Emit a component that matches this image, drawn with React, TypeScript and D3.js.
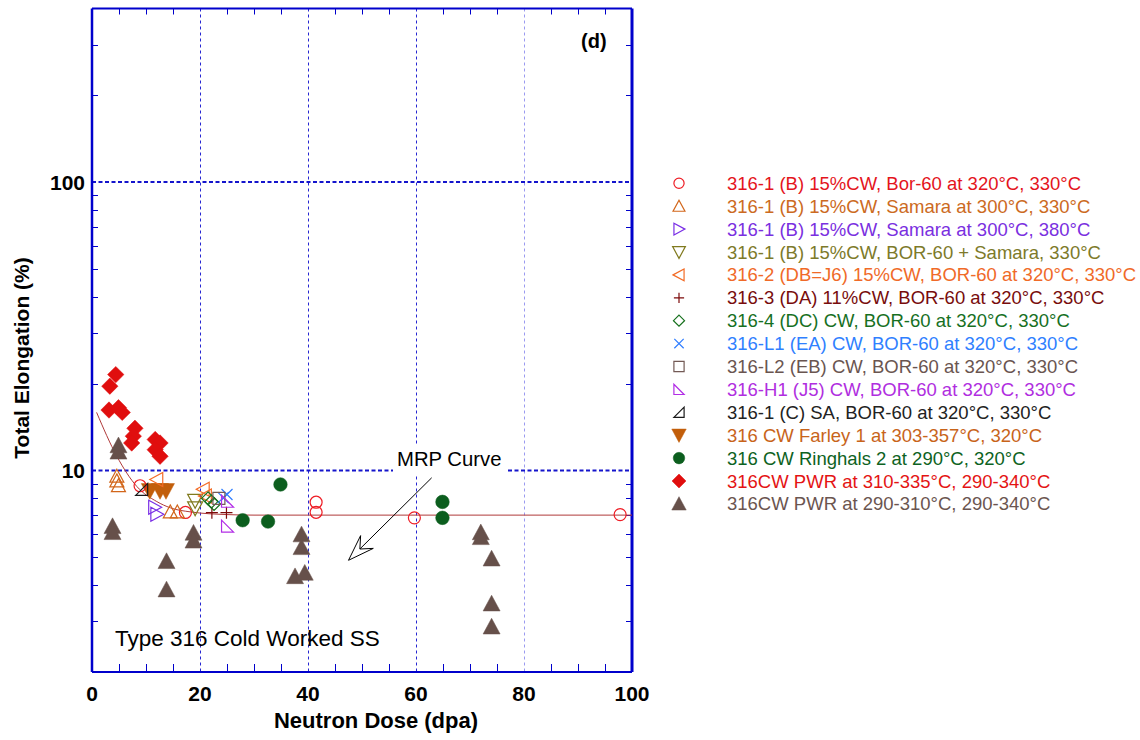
import React from 'react';
import * as d3 from 'd3';

const FONT = '"Liberation Sans", Arial, Helvetica, sans-serif';

// ---------- data ----------
const xTicks = [0, 20, 40, 60, 80, 100];
const xGrid = [20, 40, 60, 80];
const xMinor = [5, 10, 15, 25, 30, 35, 45, 50, 55, 65, 70, 75, 85, 90, 95];
const yTicks = [10, 100];
const yMinor = [3, 4, 5, 6, 7, 8, 9, 20, 30, 40, 50, 60, 70, 80, 90, 200, 300];

const labels = [
  '316-1 (B) 15%CW, Bor-60 at 320°C, 330°C',
  '316-1 (B) 15%CW, Samara at 300°C, 330°C',
  '316-1 (B) 15%CW, Samara at 300°C, 380°C',
  '316-1 (B) 15%CW, BOR-60 + Samara, 330°C',
  '316-2 (DB=J6) 15%CW, BOR-60 at 320°C, 330°C',
  '316-3 (DA) 11%CW, BOR-60 at 320°C, 330°C',
  '316-4 (DC) CW, BOR-60 at 320°C, 330°C',
  '316-L1 (EA) CW, BOR-60 at 320°C, 330°C',
  '316-L2 (EB) CW, BOR-60 at 320°C, 330°C',
  '316-H1 (J5) CW, BOR-60 at 320°C, 330°C',
  '316-1 (C) SA, BOR-60 at 320°C, 330°C',
  '316 CW Farley 1 at 303-357°C, 320°C',
  '316 CW Ringhals 2 at 290°C, 320°C',
  '316CW PWR at 310-335°C, 290-340°C',
  '316CW PWR at 290-310°C, 290-340°C',
];

const s1Dose = [8.9, 17.3, 41.5, 41.5, 59.7, 97.8];
const s1Elong = [8.85, 7.15, 7.76, 7.16, 6.85, 7.03];
const s2Dose = [4.6, 4.6, 4.9, 14.5, 15.8];
const s2Elong = [9.55, 9.2, 8.85, 7.18, 7.18];
const s3Dose = [11.6, 12.0];
const s3Elong = [7.45, 7.05];
const s4Dose = [19.1, 19.1];
const s4Elong = [7.85, 7.4];
const s5Dose = [12.0, 20.6, 21.0];
const s5Elong = [9.3, 8.6, 8.15];
const s6Dose = [22.2, 24.9];
const s6Elong = [7.14, 7.14];
const s7Dose = [21.5, 22.1, 22.6];
const s7Elong = [8.0, 7.8, 7.65];
const s8Dose = [24.3, 25.0];
const s8Elong = [8.05, 8.25];
const s9Dose = [23.5];
const s9Elong = [8.0];
const s10Dose = [25.1, 25.1];
const s10Elong = [7.82, 6.41];
const s11Dose = [9.2];
const s11Elong = [8.6];
const s12Dose = [10.7, 12.6, 13.7];
const s12Elong = [8.5, 8.5, 8.5];
const s13Dose = [27.9, 32.6, 34.9, 64.9, 64.9];
const s13Elong = [6.72, 6.65, 8.94, 7.78, 6.85];
const s14Dose = [4.4, 3.3, 3.15, 4.9, 5.6, 7.95, 7.65, 7.35, 11.7, 12.6, 11.7, 12.6];
const s14Elong = [21.5, 19.6, 16.2, 16.5, 15.9, 14.0, 13.15, 12.45, 12.8, 12.45, 11.8, 11.2];
const s15Dose = [4.9, 4.9, 3.8, 3.8, 13.8, 13.8, 18.8, 18.8, 38.8, 38.8, 37.6, 39.4, 72.0, 72.0, 74.0, 74.0, 74.0];
const s15Elong = [12.2, 11.6, 6.4, 6.1, 4.84, 3.86, 6.07, 5.7, 5.99, 5.41, 4.29, 4.41, 6.09, 5.86, 4.94, 3.45, 2.87];

const mrpDose = [0.85, 4.6, 8.3, 12.0, 14.5, 18.3, 25, 30, 100];
const mrpElong = [15.9, 11.2, 8.8, 7.8, 7.42, 7.18, 7.03, 7.0, 7.0];

const arrowFrom = [62.9, 9.43];
const arrowTo = [47.5, 4.88];

// ---------- styles ----------
type Style = { shape: string; color: string; text: string; filled: boolean; size: number };
const styles: Style[] = [
  { shape: 'circle', color: '#ee1c24', text: '#e4141c', filled: false, size: 6 },
  { shape: 'triUp', color: '#d2661a', text: '#cc6a22', filled: false, size: 7 },
  { shape: 'triRight', color: '#7a2fe6', text: '#7a2fe0', filled: false, size: 7 },
  { shape: 'triDown', color: '#807a1e', text: '#7d7a2a', filled: false, size: 7.5 },
  { shape: 'triLeft', color: '#f36b25', text: '#f06a28', filled: false, size: 7 },
  { shape: 'plus', color: '#7c0a0a', text: '#780c0c', filled: false, size: 6 },
  { shape: 'diamond', color: '#15701c', text: '#17701f', filled: false, size: 6.5 },
  { shape: 'cross', color: '#2f7dff', text: '#2f80ff', filled: false, size: 5.5 },
  { shape: 'square', color: '#735a55', text: '#6a5550', filled: false, size: 6 },
  { shape: 'rtriA', color: '#b22ee6', text: '#b02ee0', filled: false, size: 6 },
  { shape: 'rtriB', color: '#1a1a1a', text: '#222222', filled: false, size: 6 },
  { shape: 'triDown', color: '#c25e0a', text: '#c8641a', filled: true, size: 8.5 },
  { shape: 'circle', color: '#0c5e1e', text: '#0d6222', filled: true, size: 6.8 },
  { shape: 'diamond', color: '#e00e0e', text: '#e41414', filled: true, size: 8.2 },
  { shape: 'triUp', color: '#66504a', text: '#6b5550', filled: true, size: 8.5 },
];

const doses = [s1Dose, s2Dose, s3Dose, s4Dose, s5Dose, s6Dose, s7Dose, s8Dose, s9Dose, s10Dose, s11Dose, s12Dose, s13Dose, s14Dose, s15Dose];
const elongs = [s1Elong, s2Elong, s3Elong, s4Elong, s5Elong, s6Elong, s7Elong, s8Elong, s9Elong, s10Elong, s11Elong, s12Elong, s13Elong, s14Elong, s15Elong];

function shapePath(shape: string, s: number): string {
  const k = s * 0.85;
  switch (shape) {
    case 'circle':
      return `M${-s},0a${s},${s} 0 1,0 ${2 * s},0a${s},${s} 0 1,0 ${-2 * s},0Z`;
    case 'triUp':
      return `M0,${-s}L${s},${k}L${-s},${k}Z`;
    case 'triDown':
      return `M0,${s}L${s},${-k}L${-s},${-k}Z`;
    case 'triRight':
      return `M${s},0L${-k},${-s}L${-k},${s}Z`;
    case 'triLeft':
      return `M${-s},0L${k},${-s}L${k},${s}Z`;
    case 'diamond':
      return `M0,${-s}L${s},0L0,${s}L${-s},0Z`;
    case 'square':
      return `M${-s},${-s}H${s}V${s}H${-s}Z`;
    case 'plus':
      return `M${-s},0H${s}M0,${-s}V${s}`;
    case 'cross':
      return `M${-s},${-s}L${s},${s}M${s},${-s}L${-s},${s}`;
    case 'rtriA':
      return `M${-s},${-s}L${-s},${s}L${s},${s}Z`;
    case 'rtriB':
      return `M${-s},${s}L${s},${s}L${s},${-s}Z`;
    default:
      return '';
  }
}

function Marker({ st, x, y, scale = 1 }: { st: Style; x: number; y: number; scale?: number }) {
  const d = shapePath(st.shape, st.size * scale);
  return (
    <path
      d={d}
      transform={`translate(${x},${y})`}
      fill={st.filled ? st.color : 'none'}
      stroke={st.color}
      strokeWidth={st.filled ? 0.5 : 1.2}
    />
  );
}

const crisp = (v: number) => Math.round(v) + 0.5;

export default function App() {
  const W = 1140, H = 740;
  const left = 92, right = 632, top = 8.5, bottom = 672;
  const x = d3.scaleLinear().domain([0, 100]).range([left, right]);
  const y = d3.scaleLog().domain([2, 400]).range([bottom, top]);

  const blue = '#0000cc';
  const mrpLine = d3
    .line<number>()
    .x((_, i) => x(mrpDose[i]))
    .y((d) => y(d))
    .curve(d3.curveMonotoneX)(mrpElong) as string;

  const ax = x(arrowFrom[0]), ay = y(arrowFrom[1]);
  const bx = x(arrowTo[0]), by = y(arrowTo[1]);
  const ang = Math.atan2(by - ay, bx - ax);
  const ux = Math.cos(ang), uy = Math.sin(ang);
  const px = -uy, py = ux;
  const headL = 26, headW = 9, notch = 16;
  const b1 = [bx - ux * headL + px * headW, by - uy * headL + py * headW];
  const b2 = [bx - ux * headL - px * headW, by - uy * headL - py * headW];
  const nt = [bx - ux * notch, by - uy * notch];

  const legendX = 679, legendTextX = 727, legendY0 = 183.3, legendDy = 22.9;

  const order = [13, 14, 12, 11, 0, 1, 2, 3, 4, 5, 6, 7, 8, 9, 10];

  return (
    <svg width={W} height={H} style={{ position: 'absolute', left: 0, top: 0, background: '#fff' }} fontFamily={FONT}>
      <rect x={0} y={0} width={W} height={H} fill="#fff" />
      {xGrid.map((v) => (
        <line key={'gx' + v} x1={crisp(x(v))} x2={crisp(x(v))} y1={top} y2={bottom} stroke={v === 80 ? '#9a9af0' : '#2626d2'} strokeWidth={1} strokeDasharray="3,3" />
      ))}
      {yTicks.map((v) => (
        <line key={'gy' + v} x1={left} x2={right} y1={y(v)} y2={y(v)} stroke="#1414cc" strokeWidth={2} strokeDasharray="4,2.5" />
      ))}
      {yMinor.map((v) => (
        <g key={'ym' + v}>
          <line x1={left} x2={left + 6} y1={crisp(y(v))} y2={crisp(y(v))} stroke={blue} strokeWidth={1} />
          <line x1={right - 6} x2={right} y1={crisp(y(v))} y2={crisp(y(v))} stroke={blue} strokeWidth={1} />
        </g>
      ))}
      {xMinor.map((v) => (
        <g key={'xm' + v}>
          <line x1={crisp(x(v))} x2={crisp(x(v))} y1={bottom} y2={bottom - 8} stroke={blue} strokeWidth={1} />
          <line x1={crisp(x(v))} x2={crisp(x(v))} y1={top} y2={top + 6} stroke={blue} strokeWidth={1} />
        </g>
      ))}
      <line x1={left} x2={right} y1={top} y2={top} stroke={blue} strokeWidth={2} />
      <line x1={left} x2={right} y1={bottom} y2={bottom} stroke={blue} strokeWidth={2} />
      <line x1={left} x2={left} y1={top} y2={bottom} stroke={blue} strokeWidth={2.5} />
      <line x1={right} x2={right} y1={top} y2={bottom} stroke={blue} strokeWidth={3} />

      <rect x={393} y={446} width={113} height={28} fill="#fff" />
      <text x={397} y={466} fontSize={20.3} fill="#000">MRP Curve</text>

      <path d={mrpLine} fill="none" stroke="#b03a3a" strokeWidth={1} />

      <line x1={ax} y1={ay} x2={nt[0]} y2={nt[1]} stroke="#000" strokeWidth={1} />
      <path d={`M${bx},${by}L${b1[0]},${b1[1]}L${nt[0]},${nt[1]}L${b2[0]},${b2[1]}Z`} fill="#fff" stroke="#000" strokeWidth={1} />

      {order.map((si) => (
        <g key={'s' + si}>
          {doses[si].map((dv, i) => (
            <Marker key={i} st={styles[si]} x={x(dv)} y={y(elongs[si][i])} />
          ))}
        </g>
      ))}

      <text x={115} y={646} fontSize={22.5} fill="#000">Type 316 Cold Worked SS</text>
      <text x={581} y={48} fontSize={20} fontWeight="bold" fill="#000">(d)</text>

      {xTicks.map((v) => (
        <text key={'xt' + v} x={x(v)} y={701} fontSize={21} fontWeight="bold" textAnchor="middle" fill="#000">{v}</text>
      ))}
      {yTicks.map((v) => (
        <text key={'yt' + v} x={85} y={y(v) + 7.5} fontSize={21} fontWeight="bold" textAnchor="end" fill="#000">{v}</text>
      ))}

      <text x={376} y={728} fontSize={22} fontWeight="bold" textAnchor="middle" fill="#000">Neutron Dose (dpa)</text>
      <text transform={`translate(29,358) rotate(-90)`} fontSize={21} fontWeight="bold" textAnchor="middle" fill="#000">Total Elongation (%)</text>

      {labels.map((lab, i) => {
        const ly = legendY0 + i * legendDy;
        return (
          <g key={'lg' + i}>
            <Marker st={styles[i]} x={legendX} y={ly} scale={0.85} />
            <text x={legendTextX} y={ly + 6.5} fontSize={18.5} fill={styles[i].text}>{lab}</text>
          </g>
        );
      })}
    </svg>
  );
}
